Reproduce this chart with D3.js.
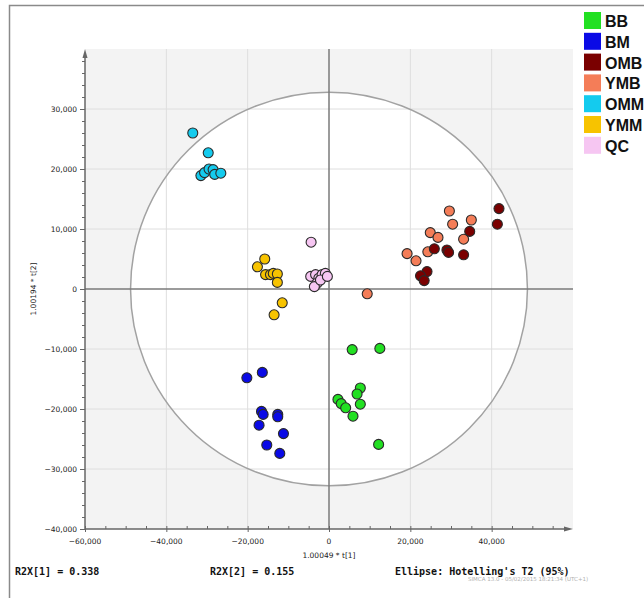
<!DOCTYPE html>
<html>
<head>
<meta charset="utf-8">
<script src="https://cdn.jsdelivr.net/npm/d3@7"></script>
<style>
    body { margin: 0; background: #ffffff; }
    .tick-label { font-family: "DejaVu Sans", sans-serif; font-size: 7.5px; fill: #222222; }
    .stat { font-family: "DejaVu Sans Mono", monospace; font-size: 10px; font-weight: bold; fill: #111111; }
    .legend-label { font-family: "Liberation Sans", Arial, sans-serif; font-size: 16px; font-weight: bold; fill: #111111; }
</style>
</head>
<body>
<script>

// Score values (t[1], t[2]) for each group
var bbScores = [[5700, -10100], [12500, -9900], [7700, -16500], [6900, -17500], [2200, -18400],
                [3000, -19100], [4100, -19800], [7700, -19200], [5900, -21200], [12200, -25900]];
var bmScores = [[-20200, -14800], [-16400, -13900], [-16600, -20400], [-16200, -20900], [-12600, -20900],
                [-12600, -21300], [-17200, -22700], [-11200, -24100], [-15300, -26000], [-12100, -27400]];
var ombScores = [[41800, 13400], [41400, 10800], [34600, 9600], [25900, 6700], [29000, 6500],
                 [29400, 6100], [33100, 5700], [24100, 2900], [22500, 2200], [23400, 1400]];
var ymbScores = [[29600, 13000], [30400, 10800], [35000, 11500], [24900, 9400], [26800, 8600],
                 [33100, 8300], [19200, 5900], [21400, 4700], [24300, 6200], [9400, -800]];
var ommScores = [[-33500, 26000], [-29700, 22700], [-31500, 18900], [-30600, 19400], [-29500, 20000],
                 [-28500, 19900], [-28100, 19100], [-26600, 19300]];
var ymmScores = [[-15800, 5000], [-17600, 3700], [-15600, 2400], [-14400, 2400], [-13700, 2600],
                 [-12700, 2500], [-12700, 1100], [-11500, -2300], [-13500, -4300]];
var qcScores = [[-4400, 7800], [-4500, 2100], [-3300, 2400], [-2500, 1800], [-1700, 2400],
                [-900, 2600], [-2900, 1000], [-3600, 400], [-2100, 1500], [-400, 2100]];

// Group names and colours, in legend order
var groupNames = ["BB", "BM", "OMB", "YMB", "OMM", "YMM", "QC"];
var groupColors = ["#22e022", "#0a0ae6", "#7a0000", "#f47d58", "#14cbee", "#f7c300", "#f6c6f2"];
var groupScores = [bbScores, bmScores, ombScores, ymbScores, ommScores, ymmScores, qcScores];

// Drawing order of the points (the picture has QC and YMM underneath the rest)
var drawOrder = [5, 6, 4, 1, 0, 3, 2];

// Axis ticks and texts
var xTicks = [-60000, -40000, -20000, 0, 20000, 40000];
var yTicks = [-40000, -30000, -20000, -10000, 0, 10000, 20000, 30000];
var xLabel = "1.00049 * t[1]";
var yLabel = "1.00194 * t[2]";
var statTexts = ["R2X[1] = 0.338", "R2X[2] = 0.155", "Ellipse: Hotelling's T2 (95%)"];
var stampText = "SIMCA 13.0 - 05/02/2015 18:21:34 (UTC+1)";

// Hotelling's T2 ellipse semi axes in score units
var ellipseRadii = [48800, 32800];


window.onload = function() {
    scoresPlot();
};


/*
 * Draws the PCA scores plot
 */

function scoresPlot() {

    var svgWidth = 644;
    var svgHeight = 598;

    // Plot area inside the figure
    var left = 85, right = 573, top = 49, bottom = 529;

    const svg = d3.select("body").append("svg")
        .attr("width", svgWidth)
        .attr("height", svgHeight);

    // Frame around the figure (runs off the right and bottom)
    svg.append("rect")
        .attr("x", 9.5)
        .attr("y", 5.5)
        .attr("width", 800)
        .attr("height", 800)
        .attr("fill", "none")
        .attr("stroke", "#8a8a8a")
        .attr("stroke-width", 1.5);

    const xScale = d3.scaleLinear()
        .domain([-60000, 60000])
        .range([left, right]);

    const yScale = d3.scaleLinear()
        .domain([-40000, 40000])
        .range([bottom, top]);

    // Grey plot background
    svg.append("rect")
        .attr("x", left)
        .attr("y", top)
        .attr("width", right - left)
        .attr("height", bottom - top)
        .attr("fill", "#f3f3f3");

    // Ellipse, white inside
    svg.append("ellipse")
        .attr("cx", xScale(0))
        .attr("cy", yScale(0))
        .attr("rx", xScale(ellipseRadii[0]) - xScale(0))
        .attr("ry", yScale(0) - yScale(ellipseRadii[1]))
        .attr("fill", "#ffffff");

    // Gridlines
    var grid = svg.append("g").attr("stroke", "#dedede").attr("stroke-width", 1);
    xTicks.filter(function(t) { return t != 0 && t != -60000; }).forEach(function(t) {
        grid.append("line")
            .attr("x1", xScale(t)).attr("x2", xScale(t))
            .attr("y1", top).attr("y2", bottom);
    });
    yTicks.filter(function(t) { return t != 0 && t != -40000; }).forEach(function(t) {
        grid.append("line")
            .attr("x1", left).attr("x2", right)
            .attr("y1", yScale(t)).attr("y2", yScale(t));
    });

    // Ellipse outline
    svg.append("ellipse")
        .attr("cx", xScale(0))
        .attr("cy", yScale(0))
        .attr("rx", xScale(ellipseRadii[0]) - xScale(0))
        .attr("ry", yScale(0) - yScale(ellipseRadii[1]))
        .attr("fill", "none")
        .attr("stroke", "#a2a2a2")
        .attr("stroke-width", 1.5);

    // Zero lines
    svg.append("line")
        .attr("x1", xScale(0)).attr("x2", xScale(0))
        .attr("y1", top).attr("y2", bottom)
        .attr("stroke", "#7a7a7a").attr("stroke-width", 1.5);
    svg.append("line")
        .attr("x1", left).attr("x2", right)
        .attr("y1", yScale(0)).attr("y2", yScale(0))
        .attr("stroke", "#7a7a7a").attr("stroke-width", 1.5);

    // X axis with minor ticks every 5000
    var xAxis = svg.append("g")
        .attr("transform", `translate(0, ${bottom})`)
        .call(d3.axisBottom(xScale)
            .tickValues(d3.range(-60000, 55001, 5000))
            .tickSize(-3)
            .tickFormat(""));
    xAxis.select(".domain").remove();
    xAxis.selectAll("line").attr("stroke", "#666666");
    xAxis.selectAll(".tick")
        .filter(function(d) { return xTicks.includes(d); })
        .select("line").attr("y2", 3).attr("y1", -3);
    svg.append("line")
        .attr("x1", left).attr("x2", right - 4)
        .attr("y1", bottom).attr("y2", bottom)
        .attr("stroke", "#666666").attr("stroke-width", 1.5);
    svg.append("path")
        .attr("d", `M${right},${bottom} l-9,-2.5 l0,5 z`)
        .attr("fill", "#666666");

    xTicks.forEach(function(t) {
        svg.append("text")
            .attr("class", "tick-label")
            .attr("x", xScale(t))
            .attr("y", bottom + 15)
            .attr("text-anchor", "middle")
            .text(d3.format(",")(t));
    });

    // Y axis with minor ticks every 2000
    var yAxis = svg.append("g")
        .attr("transform", `translate(${left}, 0)`)
        .call(d3.axisLeft(yScale)
            .tickValues(d3.range(-40000, 38001, 2000))
            .tickSize(3)
            .tickFormat(""));
    yAxis.select(".domain").remove();
    yAxis.selectAll("line").attr("stroke", "#666666");
    yAxis.selectAll(".tick")
        .filter(function(d) { return yTicks.includes(d); })
        .select("line").attr("x2", -5);
    svg.append("line")
        .attr("x1", left).attr("x2", left)
        .attr("y1", bottom).attr("y2", top + 4)
        .attr("stroke", "#666666").attr("stroke-width", 1.5);
    svg.append("path")
        .attr("d", `M${left},${top} l-2.5,9 l5,0 z`)
        .attr("fill", "#666666");

    yTicks.forEach(function(t) {
        svg.append("text")
            .attr("class", "tick-label")
            .attr("x", left - 8)
            .attr("y", yScale(t) + 2.5)
            .attr("text-anchor", "end")
            .text(d3.format(",")(t));
    });

    // Axis titles
    svg.append("text")
        .attr("class", "tick-label")
        .attr("x", xScale(0))
        .attr("y", bottom + 29)
        .attr("text-anchor", "middle")
        .attr("font-size", "8px")
        .text(xLabel);
    svg.append("text")
        .attr("class", "tick-label")
        .attr("transform", `translate(36, ${yScale(0)}) rotate(-90)`)
        .attr("text-anchor", "middle")
        .attr("font-size", "8px")
        .text(yLabel);

    // Points
    drawOrder.forEach(function(g) {
        svg.append("g").selectAll("circle")
            .data(groupScores[g])
            .enter()
            .append("circle")
            .attr("cx", function(p) { return xScale(p[0]); })
            .attr("cy", function(p) { return yScale(p[1]); })
            .attr("r", 5)
            .attr("fill", groupColors[g])
            .attr("stroke", "#2a2a2a")
            .attr("stroke-width", 1.1);
    });

    // Legend
    var legend = svg.append("g").attr("transform", "translate(584, 12)");
    groupNames.forEach(function(name, i) {
        legend.append("rect")
            .attr("x", 0)
            .attr("y", i * 20.8)
            .attr("width", 17)
            .attr("height", 17)
            .attr("fill", groupColors[i]);
        legend.append("text")
            .attr("class", "legend-label")
            .attr("x", 21)
            .attr("y", i * 20.8 + 15)
            .text(name);
    });

    // Statistics below the plot
    var statX = [15, 210, 395];
    statTexts.forEach(function(s, i) {
        svg.append("text")
            .attr("class", "stat")
            .attr("x", statX[i])
            .attr("y", 575)
            .text(s);
    });

    svg.append("text")
        .attr("x", 468)
        .attr("y", 581)
        .attr("font-family", "DejaVu Sans, sans-serif")
        .attr("font-size", "5.5px")
        .attr("fill", "#b0b0b0")
        .text(stampText);
};

</script>
</body>
</html>
